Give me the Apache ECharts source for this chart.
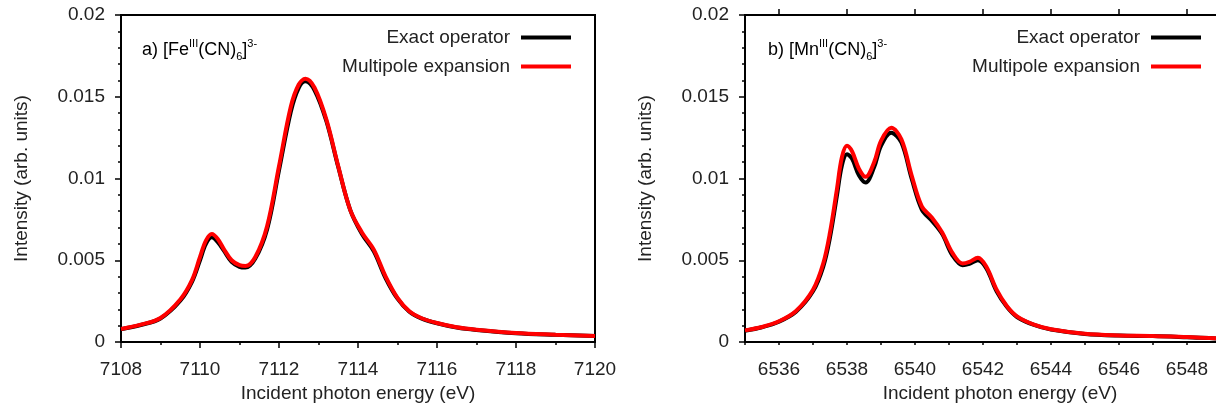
<!DOCTYPE html>
<html>
<head>
<meta charset="utf-8">
<script src="https://cdn.jsdelivr.net/npm/echarts@6/dist/echarts.min.js"></script>
<style>
  html, body { margin: 0; padding: 0; background: #fff; }
  #chart { width: 1216px; height: 412px; }
</style>
</head>
<body>
<div id="chart"></div>
<script>
// a) Fe(III) hexacyanide
var feEnergy = [7108, 7108.5, 7109, 7109.5, 7109.8, 7110, 7110.15, 7110.3, 7110.45, 7110.6, 7110.8, 7111, 7111.15, 7111.4, 7111.7, 7112, 7112.3, 7112.5, 7112.67, 7112.9, 7113.2, 7113.5, 7113.8, 7114.1, 7114.4, 7114.7, 7115, 7115.3, 7115.6, 7116, 7116.5, 7117, 7118, 7119, 7120];
var feMultipole = [0.0008, 0.00106, 0.00147, 0.0026, 0.0038, 0.0052, 0.0062, 0.0066, 0.0063, 0.0057, 0.005, 0.0047, 0.00465, 0.0052, 0.0071, 0.01075, 0.0144, 0.01575, 0.0161, 0.01555, 0.0136, 0.01075, 0.0081, 0.0067, 0.00565, 0.004, 0.0027, 0.00188, 0.00147, 0.00116, 0.0009, 0.00075, 0.00055, 0.00045, 0.00037];
var feExact = [0.00078, 0.00104, 0.00144, 0.00252, 0.0037, 0.005, 0.006, 0.0064, 0.0061, 0.0056, 0.0049, 0.0046, 0.00455, 0.0051, 0.0069, 0.0105, 0.0141, 0.01555, 0.01595, 0.0154, 0.0135, 0.0107, 0.0081, 0.0066, 0.00555, 0.0039, 0.00265, 0.00185, 0.00145, 0.00115, 0.00089, 0.00074, 0.00054, 0.00044, 0.00036];

// b) Mn(III) hexacyanide
var mnEnergy = [6535, 6535.5, 6536, 6536.5, 6537, 6537.3, 6537.5, 6537.7, 6537.85, 6538, 6538.15, 6538.35, 6538.55, 6538.8, 6539, 6539.3, 6539.6, 6539.9, 6540.2, 6540.5, 6540.8, 6541.1, 6541.4, 6541.6, 6541.85, 6542.1, 6542.4, 6542.7, 6543, 6543.5, 6544, 6545, 6546, 6547, 6548, 6549, 6550];
var mnMultipole = [0.00071, 0.00092, 0.00127, 0.0019, 0.0032, 0.0048, 0.0067, 0.0093, 0.0113, 0.012, 0.01165, 0.0106, 0.0101, 0.011, 0.0123, 0.0131, 0.0124, 0.0102, 0.0083, 0.0076, 0.0067, 0.00545, 0.0048, 0.0049, 0.00515, 0.0046, 0.0032, 0.0022, 0.00157, 0.00106, 0.00078, 0.0005, 0.0004, 0.00037, 0.0003, 0.00022, 0.00018];
var mnExact = [0.00069, 0.0009, 0.00124, 0.00185, 0.0031, 0.0046, 0.0064, 0.0089, 0.0108, 0.01148, 0.0112, 0.0102, 0.00975, 0.0107, 0.012, 0.0128, 0.0122, 0.01, 0.0081, 0.0074, 0.0066, 0.0053, 0.0047, 0.00478, 0.005, 0.0045, 0.0031, 0.00215, 0.00153, 0.00104, 0.00076, 0.00049, 0.00039, 0.00036, 0.00029, 0.00021, 0.00017];

var seriesNames = ['Exact operator', 'Multipole expansion'];
var yTicks = [0, 0.005, 0.01, 0.015, 0.02];
var mnMajorTicks = [6536, 6538, 6540, 6542, 6544, 6546, 6548, 6550];

function pairs(xs, ys) {
    return xs.map(function (x, i) { return [x, ys[i]]; });
}

var font = 'Liberation Sans, Arial, Helvetica, sans-serif';
var txt = '#222';

function yAxisOf(gridIndex) {
    return {
        type: 'value',
        gridIndex: gridIndex,
        min: yTicks[0],
        max: yTicks[yTicks.length - 1],
        interval: 0.005,
        name: 'Intensity (arb. units)',
        nameLocation: 'middle',
        nameRotate: 90,
        nameGap: 90,
        nameTextStyle: { fontFamily: font, fontSize: 19, color: txt },
        axisLine: { show: true, lineStyle: { color: '#000', width: 2 } },
        axisTick: { show: true, length: 6, lineStyle: { color: '#000', width: 1.5 } },
        minorTick: { show: true, splitNumber: 5, length: 3, lineStyle: { color: '#000', width: 1.5 } },
        splitLine: { show: false },
        axisLabel: { fontFamily: font, fontSize: 19, color: txt, margin: 16 }
    };
}

var xName = {
    name: 'Incident photon energy (eV)',
    nameLocation: 'middle',
    nameGap: 38,
    nameTextStyle: { fontFamily: font, fontSize: 19, color: txt }
};

var myChart = echarts.init(document.getElementById('chart'), null, { renderer: 'canvas' });

var rich = {
    n: { fontFamily: font, fontSize: 18, color: txt, lineHeight: 24 },
    sup: { fontFamily: font, fontSize: 11, color: txt, verticalAlign: 'top', lineHeight: 12 },
    sub: { fontFamily: font, fontSize: 11, color: txt, verticalAlign: 'bottom', lineHeight: 10 }
};

var legendBase = {
    data: seriesNames,
    orient: 'vertical',
    top: 23,
    align: 'right',
    icon: 'rect',
    itemWidth: 50,
    itemHeight: 4,
    itemGap: 10,
    textStyle: { fontFamily: font, fontSize: 19, color: txt, lineHeight: 18, padding: [0, 6, 0, 0] }
};

var option = {
    animation: false,
    backgroundColor: '#fff',
    grid: [
        { left: 121, right: 621, top: 15, bottom: 70, show: true, borderColor: '#000', borderWidth: 2, backgroundColor: 'transparent', outerBoundsMode: 'none' },
        { left: 745, right: -39, top: 15, bottom: 70, show: true, borderColor: '#000', borderWidth: 2, backgroundColor: 'transparent', outerBoundsMode: 'none' }
    ],
    xAxis: [
        Object.assign({
            type: 'value',
            gridIndex: 0,
            min: 7108,
            max: 7120,
            interval: 2,
            axisLine: { show: true, lineStyle: { color: '#000', width: 2 } },
            axisTick: { show: true, length: 6, lineStyle: { color: '#000', width: 1.5 } },
            minorTick: { show: true, splitNumber: 2, length: 3, lineStyle: { color: '#000', width: 1.5 } },
            splitLine: { show: false },
            axisLabel: { fontFamily: font, fontSize: 19, color: txt, margin: 18, formatter: function (v) { return String(v); } }
        }, xName),
        Object.assign({
            type: 'value',
            gridIndex: 1,
            min: 6535,
            max: 6550,
            interval: 1,
            axisLine: { show: true, lineStyle: { color: '#000', width: 2 } },
            axisTick: { show: true, length: 3, lineStyle: { color: '#000', width: 1.5 } },
            splitLine: { show: false },
            axisLabel: {
                fontFamily: font, fontSize: 19, color: txt, margin: 18,
                formatter: function (v) { return v % 2 === 0 ? String(v) : ''; }
            }
        }, xName),
        {
            // longer ticks at the labelled values of panel b
            type: 'value',
            gridIndex: 1,
            min: 6535,
            max: 6550,
            interval: 1,
            axisLine: { show: false },
            axisTick: { show: true, length: 6, customValues: mnMajorTicks, lineStyle: { color: '#000', width: 1.5 } },
            axisLabel: { show: false },
            splitLine: { show: false }
        }
    ],
    yAxis: [yAxisOf(0), yAxisOf(1)],
    legend: [
        Object.assign({ right: 640 }, legendBase),
        Object.assign({ right: 10 }, legendBase)
    ],
    graphic: [
        {
            type: 'text', left: 142, top: 38,
            style: { text: '{n|a) [Fe}{sup|III}{n|(CN)}{sub|6}{n|]}{sup|3-}', rich: rich }
        },
        {
            type: 'text', left: 768, top: 38,
            style: { text: '{n|b) [Mn}{sup|III}{n|(CN)}{sub|6}{n|]}{sup|3-}', rich: rich }
        }
    ],
    series: [
        {
            name: seriesNames[0], type: 'line', xAxisIndex: 0, yAxisIndex: 0,
            data: pairs(feEnergy, feExact), smooth: 0.35, showSymbol: false,
            lineStyle: { color: '#000', width: 4 }, itemStyle: { color: '#000' }
        },
        {
            name: seriesNames[1], type: 'line', xAxisIndex: 0, yAxisIndex: 0,
            data: pairs(feEnergy, feMultipole), smooth: 0.35, showSymbol: false,
            lineStyle: { color: '#f00', width: 4 }, itemStyle: { color: '#f00' }
        },
        {
            name: seriesNames[0], type: 'line', xAxisIndex: 1, yAxisIndex: 1,
            data: pairs(mnEnergy, mnExact), smooth: 0.35, showSymbol: false,
            lineStyle: { color: '#000', width: 4 }, itemStyle: { color: '#000' }
        },
        {
            name: seriesNames[1], type: 'line', xAxisIndex: 1, yAxisIndex: 1,
            data: pairs(mnEnergy, mnMultipole), smooth: 0.35, showSymbol: false,
            lineStyle: { color: '#f00', width: 4 }, itemStyle: { color: '#f00' }
        }
    ]
};

myChart.setOption(option);
window.addEventListener('resize', function () {
    myChart.resize();
});
</script>
</body>
</html>
